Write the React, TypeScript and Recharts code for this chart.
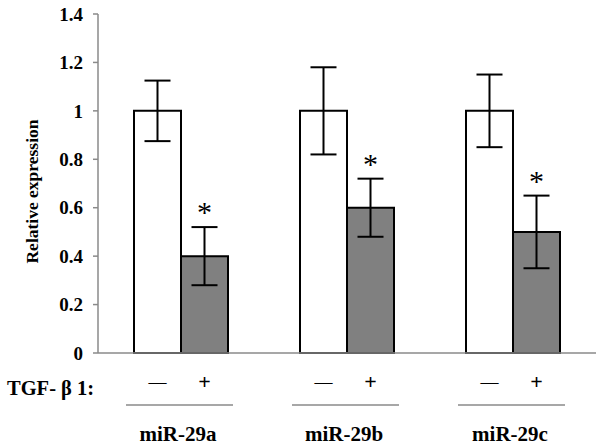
import { Bar, BarChart, ErrorBar, Label, XAxis, YAxis } from 'recharts';

const genes = ['miR-29a', 'miR-29b', 'miR-29c'];
const ctrl = [1.0, 1.0, 1.0];
const ctrlErr = [0.125, 0.18, 0.15];
const tgf = [0.4, 0.6, 0.5];
const tgfErr = [0.12, 0.12, 0.15];
const yTicks = [0, 0.2, 0.4, 0.6, 0.8, 1, 1.2, 1.4];

const data = genes.map((g, i) => ({ g, ctrl: ctrl[i], ctrlErr: ctrlErr[i], tgf: tgf[i], tgfErr: tgfErr[i] }));

const SERIF = "'Liberation Serif', 'DejaVu Serif', serif";
const BAR = 47;
const AXIS = '#8a8a8a';

// minus / plus under each bar, a rule, then the gene name
function GroupTick(props: any) {
  const { x, y, payload } = props;
  return (
    <g>
      <text x={x - BAR / 2} y={y + 35} textAnchor="middle" style={{ fontFamily: SERIF, fontSize: 18 }} fill="#000">—</text>
      <text x={x + BAR / 2} y={y + 36} textAnchor="middle" style={{ fontFamily: SERIF, fontSize: 22, fontWeight: 'bold' }} fill="#000">+</text>
      <line x1={x - 55} x2={x + 52} y1={y + 52} y2={y + 52} stroke={AXIS} strokeWidth={1.5} />
      <text x={x - 3} y={y + 88} textAnchor="middle" style={{ fontFamily: SERIF, fontSize: 21, fontWeight: 'bold' }} fill="#000">{payload.value}</text>
    </g>
  );
}

function Star(props: any) {
  const vb = props.viewBox || props;
  const i = props.index ?? 0;
  const top = vb.y - vb.height * (tgfErr[i] / tgf[i]);
  return (
    <text x={vb.x + vb.width / 2} y={top - 5} textAnchor="middle" style={{ fontFamily: SERIF, fontSize: 30 }} fill="#000">*</text>
  );
}

export default function App() {
  return (
    <div style={{ position: 'absolute', left: 0, top: 0 }}>
      <BarChart width={600} height={447} data={data} margin={{ top: 14, right: 4, bottom: 0, left: 0 }} barSize={BAR} barGap={0}>
        <YAxis
          width={98}
          domain={[0, 1.4]}
          ticks={yTicks}
          interval={0}
          tickFormatter={(v: number) => String(v)}
          stroke={AXIS}
          strokeWidth={1.5}
          tickSize={5}
          tickMargin={10}
          tick={{ fill: '#000', style: { fontSize: 19, fontWeight: 'bold', fontFamily: SERIF } }}
        >
          <Label
            content={(p: any) => {
              const vb = p.viewBox;
              const cy = vb.y + vb.height / 2 + 8;
              return (
                <text x={38} y={cy} transform={`rotate(-90 38 ${cy})`} textAnchor="middle" style={{ fontFamily: SERIF, fontSize: 17.5, fontWeight: 'bold' }} fill="#000">
                  Relative expression
                </text>
              );
            }}
          />
        </YAxis>
        <XAxis dataKey="g" height={94} stroke={AXIS} strokeWidth={1.5} tickLine={false} tickSize={0} tickMargin={0} interval={0} tick={<GroupTick />}>
          <Label
            content={(p: any) => {
              const vb = p.viewBox;
              return (
                <text x={vb.x - 91} y={vb.y + 42} style={{ fontFamily: SERIF, fontSize: 20.5, fontWeight: 'bold' }} fill="#000">
                  TGF- β 1:
                </text>
              );
            }}
          />
        </XAxis>
        <Bar dataKey="ctrl" fill="#fff" stroke="#000" strokeWidth={2} isAnimationActive={false}>
          <ErrorBar dataKey="ctrlErr" width={13} stroke="#000" strokeWidth={2} isAnimationActive={false} />
        </Bar>
        <Bar dataKey="tgf" fill="#808080" stroke="#000" strokeWidth={2} isAnimationActive={false} label={<Star />}>
          <ErrorBar dataKey="tgfErr" width={13} stroke="#000" strokeWidth={2} isAnimationActive={false} />
        </Bar>
      </BarChart>
    </div>
  );
}
